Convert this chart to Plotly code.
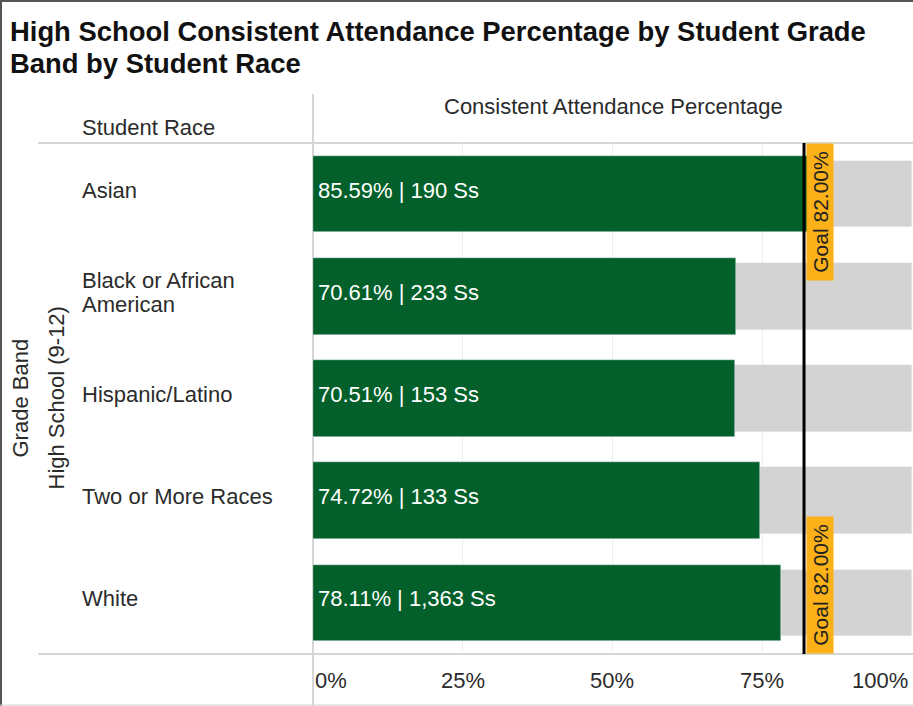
import plotly.graph_objects as go

# ---- data ----
races = ["Asian", "Black or African<br>American", "Hispanic/Latino", "Two or More Races", "White"]
attendance_pct = [85.59, 70.61, 70.51, 74.72, 78.11]
student_counts = ["190", "233", "153", "133", "1,363"]
full_scale = [100, 100, 100, 100, 100]
goal_pct = 82.0
tick_vals = [0, 25, 50, 75, 100]
tick_text = ["0%", "25%", "50%", "75%", "100%"]

title_lines = ["High School Consistent Attendance Percentage by Student Grade",
               "Band by Student Race"]

# ---- layout geometry (pixels) ----
W, H = 913, 706
L, R, T, B = 313, 0, 143, 52
PW, PH = W - L - R, H - T - B

def px(x):
    return (x - L) / PW

def py(y):
    return 1 - (y - T) / PH

GREEN = "#03602A"
GRAY = "#D3D3D3"
ORANGE = "#FBB117"
TXT = "#2b2b2b"
FONT = "Liberation Sans, Arial, sans-serif"
FS = 22

fig = go.Figure()
fig.add_trace(go.Bar(
    y=races, x=full_scale, orientation="h", marker_color=GRAY,
    width=0.65, hoverinfo="skip", showlegend=False,
))
fig.add_trace(go.Bar(
    y=races, x=attendance_pct, orientation="h", marker_color=GREEN,
    width=0.75, showlegend=False,
))

ann = []
# title lines
for i, line in enumerate(title_lines):
    ann.append(dict(x=px(8), y=py(14 + 32 * i), xref="paper", yref="paper",
                    xanchor="left", yanchor="top", text=f"<b>{line}</b>", showarrow=False,
                    font=dict(family=FONT, size=27.4, color="#111111")))
# bar labels
for r, v, n in zip(races, attendance_pct, student_counts):
    ann.append(dict(x=0, y=r, xref="x", yref="y", xanchor="left", yanchor="middle",
                    xshift=3, yshift=4, text=f"{v:.2f}% | {n} Ss", showarrow=False,
                    font=dict(family=FONT, size=FS, color="white")))
# row labels (multi-line labels set with tighter line spacing)
for r in races:
    parts = r.split("<br>")
    k = len(parts)
    for j, part in enumerate(parts):
        ann.append(dict(x=px(80), y=r, xref="paper", yref="y", xanchor="left", yanchor="middle",
                        yshift=4 + ((k - 1) / 2 - j) * 24, text=part, showarrow=False,
                        font=dict(family=FONT, size=FS, color=TXT)))
# tick labels
for i, (tv, tt) in enumerate(zip(tick_vals, tick_text)):
    anchor = "left" if i == 0 else ("right" if i == len(tick_vals) - 1 else "center")
    shift = 0 if i == 0 else (-2 if i == len(tick_vals) - 1 else 0)
    ann.append(dict(x=tv, y=py(680), xref="x", yref="paper", xanchor=anchor, yanchor="middle",
                    xshift=shift, text=tt, showarrow=False,
                    font=dict(family=FONT, size=FS, color=TXT)))
# headers
ann.append(dict(x=0.5, y=py(106), xref="paper", yref="paper", xanchor="center", yanchor="middle",
                text="Consistent Attendance Percentage", showarrow=False,
                font=dict(family=FONT, size=FS, color=TXT)))
ann.append(dict(x=px(80), y=py(128), xref="paper", yref="paper", xanchor="left", yanchor="middle",
                text="Student Race", showarrow=False,
                font=dict(family=FONT, size=FS, color=TXT)))
ann.append(dict(x=px(20), y=0.5, xref="paper", yref="paper", xanchor="center", yanchor="middle",
                text="Grade Band", textangle=-90, showarrow=False,
                font=dict(family=FONT, size=FS, color=TXT)))
ann.append(dict(x=px(56), y=0.5, xref="paper", yref="paper", xanchor="center", yanchor="middle",
                text="High School (9-12)", textangle=-90, showarrow=False,
                font=dict(family=FONT, size=FS, color=TXT)))
# goal labels
goal_label = f"Goal {goal_pct:.2f}%"
for yv, ya in [(1, "top"), (0, "bottom")]:
    ann.append(dict(x=goal_pct, y=yv, xref="x", yref="paper", xanchor="left", yanchor=ya,
                    xshift=2, text=goal_label, textangle=-90, showarrow=False,
                    bgcolor=ORANGE, borderpad=1, width=134, height=24, align="center",
                    font=dict(family=FONT, size=21, color="#222222")))

shapes = [
    # goal line
    dict(type="line", xref="x", yref="paper", x0=goal_pct, x1=goal_pct, y0=0, y1=1,
         line=dict(color="black", width=3), layer="above"),
    # header divider / pane lines
    dict(type="line", xref="paper", yref="paper", x0=px(38), x1=1, y0=1, y1=1,
         line=dict(color="#D6D6D6", width=2), layer="below"),
    dict(type="line", xref="paper", yref="paper", x0=px(38), x1=1, y0=0, y1=0,
         line=dict(color="#D6D6D6", width=2), layer="below"),
    dict(type="line", xref="paper", yref="paper", x0=0, x1=0, y0=py(94), y1=py(706),
         line=dict(color="#D6D6D6", width=2), layer="below"),
    # outer frame
    dict(type="line", xref="paper", yref="paper", x0=px(1), x1=px(1), y0=py(0), y1=py(706),
         line=dict(color="#555555", width=2)),
    dict(type="line", xref="paper", yref="paper", x0=px(0), x1=px(913), y0=py(1), y1=py(1),
         line=dict(color="#555555", width=2)),
    dict(type="line", xref="paper", yref="paper", x0=px(0), x1=px(913), y0=py(705), y1=py(705),
         line=dict(color="#D0D0D0", width=1)),
]

fig.update_layout(
    width=W, height=H,
    margin=dict(l=L, r=R, t=T, b=B, pad=0),
    paper_bgcolor="white", plot_bgcolor="white",
    barmode="overlay", bargap=0,
    xaxis=dict(range=[0, 100.2], tickvals=tick_vals[1:-1], showticklabels=False,
               showgrid=True, gridcolor="#EDEDED", gridwidth=1, zeroline=False,
               showline=False, fixedrange=True),
    yaxis=dict(categoryorder="array", categoryarray=races, range=[4.5, -0.5],
               showticklabels=False, showgrid=False, zeroline=False, showline=False),
    annotations=ann,
    shapes=shapes,
)

fig.write_html("out.html", config={"displayModeBar": False},
               post_script="document.body.style.margin='0';document.body.style.overflow='hidden';")
